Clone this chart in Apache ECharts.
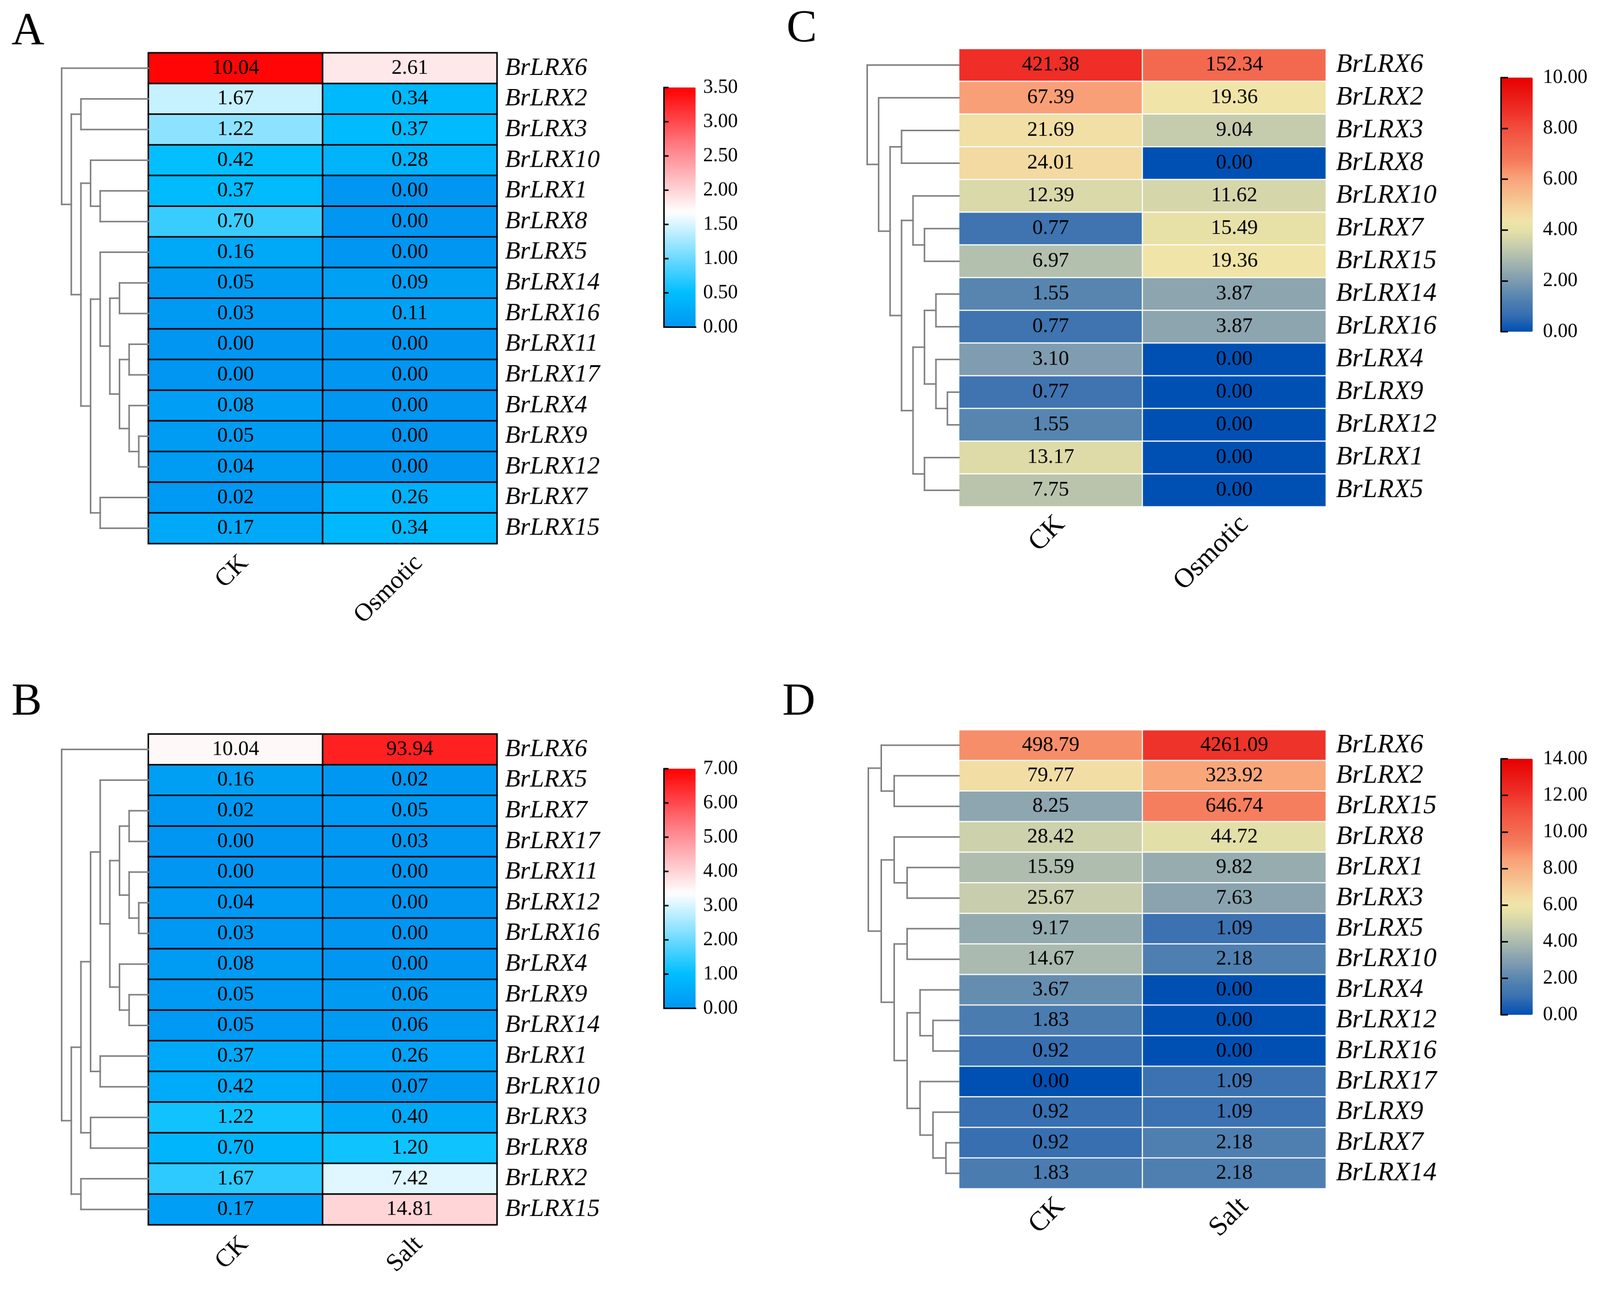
<!DOCTYPE html>
<html><head><meta charset="utf-8">
<script src="https://cdn.jsdelivr.net/npm/echarts@6/dist/echarts.min.js"></script>
<style>html,body{margin:0;padding:0;background:#fff;overflow:hidden}#c{width:4205px;height:3360px;transform-origin:0 0}</style>
</head><body><div id="c"></div><script>
// ---------- data ----------
const colsOsm = ['CK', 'Osmotic'];
const colsSalt = ['CK', 'Salt'];

const rowsA = ['BrLRX6','BrLRX2','BrLRX3','BrLRX10','BrLRX1','BrLRX8','BrLRX5','BrLRX14','BrLRX16','BrLRX11','BrLRX17','BrLRX4','BrLRX9','BrLRX12','BrLRX7','BrLRX15'];
const ckA  = [10.04,1.67,1.22,0.42,0.37,0.70,0.16,0.05,0.03,0.00,0.00,0.08,0.05,0.04,0.02,0.17];
const osmA = [2.61,0.34,0.37,0.28,0.00,0.00,0.00,0.09,0.11,0.00,0.00,0.00,0.00,0.00,0.26,0.34];

const rowsB = ['BrLRX6','BrLRX5','BrLRX7','BrLRX17','BrLRX11','BrLRX12','BrLRX16','BrLRX4','BrLRX9','BrLRX14','BrLRX1','BrLRX10','BrLRX3','BrLRX8','BrLRX2','BrLRX15'];
const ckB   = [10.04,0.16,0.02,0.00,0.00,0.04,0.03,0.08,0.05,0.05,0.37,0.42,1.22,0.70,1.67,0.17];
const saltB = [93.94,0.02,0.05,0.03,0.00,0.00,0.00,0.00,0.06,0.06,0.26,0.07,0.40,1.20,7.42,14.81];

const rowsC = ['BrLRX6','BrLRX2','BrLRX3','BrLRX8','BrLRX10','BrLRX7','BrLRX15','BrLRX14','BrLRX16','BrLRX4','BrLRX9','BrLRX12','BrLRX1','BrLRX5'];
const ckC  = [421.38,67.39,21.69,24.01,12.39,0.77,6.97,1.55,0.77,3.10,0.77,1.55,13.17,7.75];
const osmC = [152.34,19.36,9.04,0.00,11.62,15.49,19.36,3.87,3.87,0.00,0.00,0.00,0.00,0.00];

const rowsD = ['BrLRX6','BrLRX2','BrLRX15','BrLRX8','BrLRX1','BrLRX3','BrLRX5','BrLRX10','BrLRX4','BrLRX12','BrLRX16','BrLRX17','BrLRX9','BrLRX7','BrLRX14'];
const ckD   = [498.79,79.77,8.25,28.42,15.59,25.67,9.17,14.67,3.67,1.83,0.92,0.00,0.92,0.92,1.83];
const saltD = [4261.09,323.92,646.74,44.72,9.82,7.63,1.09,2.18,0.00,0.00,0.00,1.09,1.09,2.18,2.18];

// dendrogram topologies (row indices)
const treeA = [0, [[1,2], [[3,[4,5]], [[6,[[7,8],[[9,10],[11,[12,13]]]]], [14,15]]]]];
const treeB = [0, [[[[1, [[[2,3],[4,[5,6]]], [7,[8,9]]]], [10,11]], [12,13]], [14,15]]];
const treeC = [0, [1, [[2,3], [[4,[5,6]], [[[7,8],[9,[10,11]]], [12,13]]]]]];
const treeD = [[0,[1,2]], [[3,[4,5]], [[6,7], [[8,[9,10]], [11,[12,[13,14]]]]]]];

// colour-bar scales (colour = log2(x+1))
const maxA = 3.5, maxB = 7, maxC = 10, maxD = 14;
const tickA = 0.5, tickB = 1, tickC = 2, tickD = 2;

// ---------- helpers ----------
const FONT = 'Liberation Serif';
function ramp(stops, n) {
  const hex = h => [1,3,5].map(i => parseInt(h.substr(i,2),16));
  const out = [];
  for (let i = 0; i < n; i++) {
    const f = i/(n-1);
    let k = 0;
    while (k < stops.length-2 && f > stops[k+1][0]) k++;
    const [f0,c0] = stops[k], [f1,c1] = stops[k+1];
    const t = Math.min(1, Math.max(0, (f-f0)/(f1-f0)));
    const a = hex(c0), b = hex(c1);
    out.push('rgb(' + a.map((v,j) => Math.round(v + (b[j]-v)*t)).join(',') + ')');
  }
  return out;
}
const bwr = ramp([[0,'#0096F2'],[0.143,'#00BFFF'],[0.48,'#FFFFFF'],[0.75,'#FF8088'],[1,'#FF0000']], 81);
const rdylbu = ramp([[0,'#0050B4'],[0.07,'#3A70B1'],[0.13,'#5383B0'],[0.2,'#7E9BB0'],[0.28,'#A9B9AE'],[0.34,'#C9CEAD'],[0.4,'#E6E1A8'],[0.435,'#F1E5A9'],[0.47,'#F4D8A0'],[0.61,'#F9A077'],[0.67,'#F47C5C'],[0.8,'#F24E3E'],[0.87,'#EE2F28'],[1,'#E60000']], 81);

function hdata(a, b) {
  const out = [];
  a.forEach((v,i) => out.push([0, i, Math.log2(v+1), v]));
  b.forEach((v,i) => out.push([1, i, Math.log2(v+1), v]));
  return out;
}
function dendro(tree) {
  let md = 0;
  (function dep(n, d){ if (typeof n === 'number') return; md = Math.max(md, d); n.forEach(c => dep(c, d+1)); })(tree, 0);
  const leafX = md + 1, segs = [];
  (function walk(n, d){
    if (typeof n === 'number') return n + 0.5;
    const ys = n.map(c => walk(c, d+1));
    const y0 = Math.min(...ys), y1 = Math.max(...ys);
    segs.push([d, y0, d, y1]);
    n.forEach((c,i) => segs.push([d, ys[i], typeof c === 'number' ? leafX : d+1, ys[i]]));
    return (y0 + y1) / 2;
  })(tree, 0);
  return { segs, leafX };
}

// ---------- layout ----------
const P = [
  { rows: rowsA, cols: colsOsm, a: ckA, b: osmA, tree: treeA, max: maxA, tick: tickA, colors: bwr, border: '#000', bw: 4,
    heat: {left:390, top:139, width:916, height:1290}, dl: 162,
    cb: {left:1745, top:230, width:83, height:630}, frame: true, rowFont: 66, rowMargin: 21,
    xFont: 66, xPad: 33, xMargin: 65, tickLen: 12, cbMargin: 20,
    letter: 'A', lx: 30, ly: 25 },
  { rows: rowsB, cols: colsSalt, a: ckB, b: saltB, tree: treeB, max: maxB, tick: tickB, colors: bwr, border: '#000', bw: 4,
    heat: {left:390, top:1930, width:916, height:1290}, dl: 162,
    cb: {left:1745, top:2021, width:83, height:630}, frame: true, rowFont: 66, rowMargin: 21,
    xFont: 66, xPad: 33, xMargin: 65, tickLen: 12, cbMargin: 20,
    letter: 'B', lx: 30, ly: 1787 },
  { rows: rowsC, cols: colsOsm, a: ckC, b: osmC, tree: treeC, max: maxC, tick: tickC, colors: rdylbu, border: '#fff', bw: 3,
    heat: {left:2520, top:128, width:965, height:1204}, dl: 2279,
    cb: {left:3945, top:204, width:83, height:668}, frame: false, rowFont: 70, rowMargin: 26,
    xFont: 72, xPad: 37, xMargin: 62, tickLen: 18, cbMargin: 27,
    letter: 'C', lx: 2067, ly: 17 },
  { rows: rowsD, cols: colsSalt, a: ckD, b: saltD, tree: treeD, max: maxD, tick: tickD, colors: rdylbu, border: '#fff', bw: 3,
    heat: {left:2520, top:1919, width:965, height:1206}, dl: 2282,
    cb: {left:3945, top:1995, width:83, height:673}, frame: false, rowFont: 70, rowMargin: 26,
    xFont: 72, xPad: 37, xMargin: 62, tickLen: 18, cbMargin: 27,
    letter: 'D', lx: 2056, ly: 1787 }
];

const grid = [], xAxis = [], yAxis = [], series = [], visualMap = [], title = [];
P.forEach((p, k) => {
  grid.push(Object.assign({}, p.heat));
  xAxis.push({ type:'category', gridIndex:k, data:p.cols, position:'bottom',
    axisLine:{show:false}, axisTick:{show:false}, splitLine:{show:false},
    axisLabel:{interval:0, rotate:45, margin:p.xMargin, padding:[0,-p.xPad,0,0], fontFamily:FONT, fontSize:p.xFont, color:'#000'} });
  yAxis.push({ type:'category', gridIndex:k, data:p.rows, inverse:true, position:'right',
    axisLine:{show:false}, axisTick:{show:false}, splitLine:{show:false},
    axisLabel:{interval:0, margin:p.rowMargin, fontFamily:FONT, fontStyle:'italic', fontSize:p.rowFont, color:'#000'} });
  series.push({ type:'heatmap', xAxisIndex:k, yAxisIndex:k, data:hdata(p.a, p.b),
    itemStyle:{borderColor:p.border, borderWidth:p.bw},
    label:{show:true, formatter: q => q.data[3].toFixed(2), fontFamily:FONT, fontSize:55, color:'#000'},
    emphasis:{disabled:true} });
  visualMap.push({ type:'continuous', seriesIndex:k, dimension:2, min:0, max:p.max,
    inRange:{color:p.colors}, calculable:false, hoverLink:false, padding:0,
    left:p.cb.left, top:p.cb.top, itemWidth:p.cb.width, itemHeight:p.cb.height, textStyle:{fontSize:1, color:'rgba(0,0,0,0)'} });
  title.push({ text:p.letter, left:p.lx, top:p.ly, padding:0,
    textStyle:{fontFamily:FONT, fontSize:120, fontWeight:'normal', color:'#000'} });
});
// dendrogram grids
P.forEach((p, k) => {
  const g = grid.length, d = dendro(p.tree);
  grid.push({ left:p.dl, top:p.heat.top, width:p.heat.left - p.dl, height:p.heat.height });
  xAxis.push({ type:'value', gridIndex:g, min:0, max:d.leafX, show:false });
  yAxis.push({ type:'value', gridIndex:g, min:0, max:p.rows.length, inverse:true, show:false });
  series.push({ type:'custom', xAxisIndex:g, yAxisIndex:g, data:d.segs, silent:true,
    encode:{x:[0,2], y:[1,3]},
    renderItem:(params, api) => {
      const p1 = api.coord([api.value(0), api.value(1)]);
      const p2 = api.coord([api.value(2), api.value(3)]);
      return { type:'line', shape:{x1:p1[0], y1:p1[1], x2:p2[0], y2:p2[1]},
        style:{stroke:'#7f7f7f', lineWidth:4, lineCap:'square'} };
    } });
});
// colour-bar axes
P.forEach((p, k) => {
  const g = grid.length;
  grid.push(Object.assign({}, p.cb));
  const line = {show:true, lineStyle:{color:'#000', width:4}};
  xAxis.push({ type:'value', gridIndex:g, min:0, max:1, position:'bottom', z:10,
    axisLine: p.frame ? line : {show:false}, axisTick:{show:false}, axisLabel:{show:false}, splitLine:{show:false} });
  yAxis.push({ type:'value', gridIndex:g, min:0, max:p.max, interval:p.tick, position:'right', z:10,
    axisLine:line, axisTick:{show:true, length:p.tickLen, lineStyle:{color:'#000', width:4}},
    axisLabel:{margin:p.cbMargin, formatter: v => v.toFixed(2), fontFamily:FONT, fontSize:52, color:'#000'},
    splitLine:{show:false} });
  if (p.frame) {
    xAxis.push({ type:'value', gridIndex:g, min:0, max:1, position:'top', z:10,
      axisLine:line, axisTick:{show:false}, axisLabel:{show:false}, splitLine:{show:false} });
    yAxis.push({ type:'value', gridIndex:g, min:0, max:p.max, position:'left', z:10,
      axisLine:line, axisTick:{show:false}, axisLabel:{show:false}, splitLine:{show:false} });
  }
});

const el = document.getElementById('c');
const kfit = Math.min(window.innerWidth / 4205, window.innerHeight / 3360, 1);
if (kfit < 0.999) el.style.transform = 'scale(' + kfit + ')';
const chart = echarts.init(el, null, {renderer:'canvas'});
chart.setOption({ backgroundColor:'#fff', animation:false, title, grid, xAxis, yAxis, series, visualMap });
</script></body></html>
